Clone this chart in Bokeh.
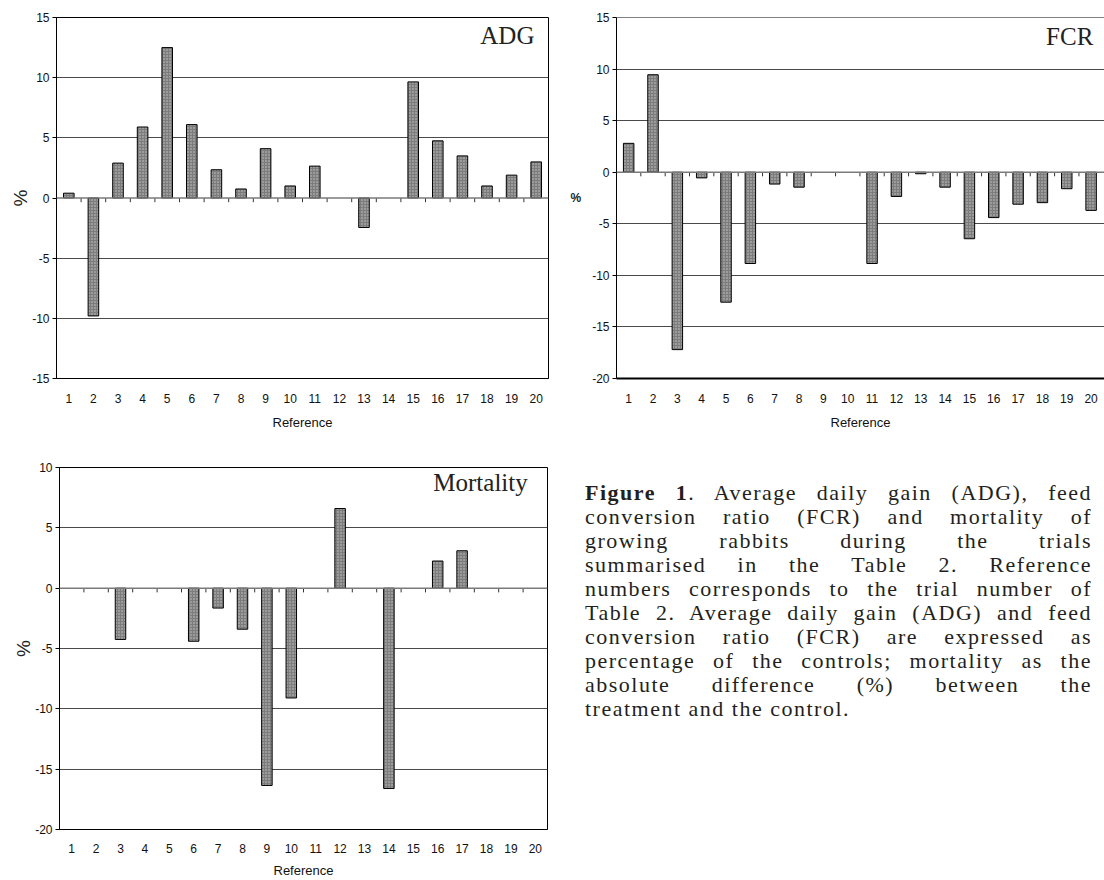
from bokeh.plotting import figure
from bokeh.models import Range1d, FixedTicker, Span, Label, Div
from bokeh.layouts import column, row
from bokeh.embed import file_html
from bokeh.resources import INLINE

# ---------------- data ----------------
refs = list(range(1, 21))
adg = [0.4, -9.8, 2.9, 5.9, 12.5, 6.1, 2.35, 0.75, 4.1, 1.0,
       2.65, 0.0, -2.45, 0.0, 9.65, 4.75, 3.5, 1.0, 1.9, 3.0]
fcr = [2.8, 9.45, -17.2, -0.55, -12.6, -8.85, -1.15, -1.45, 0.0, 0.0,
       -8.85, -2.35, -0.15, -1.45, -6.45, -4.4, -3.1, -2.95, -1.6, -3.7]
mortality = [0.0, 0.0, -4.25, 0.0, 0.0, -4.4, -1.65, -3.4, -16.35, -9.1,
             0.0, 6.6, 0.0, -16.6, 0.0, 2.25, 3.1, 0.0, 0.0, 0.0]
adg_ticks = [-15, -10, -5, 0, 5, 10, 15]
fcr_ticks = [-20, -15, -10, -5, 0, 5, 10, 15]
mort_ticks = [-20, -15, -10, -5, 0, 5, 10]

caption_lines = [
    "<b>Figure 1</b>. Average daily gain (ADG), feed",
    "conversion ratio (FCR) and mortality of",
    "growing rabbits during the trials",
    "summarised in the Table 2. Reference",
    "numbers corresponds to the trial number of",
    "Table 2. Average daily gain (ADG) and feed",
    "conversion ratio (FCR) are expressed as",
    "percentage of the controls; mortality as the",
    "absolute difference (%) between the",
    "treatment and the control.",
]

SANS = "Liberation Sans"
SERIF = "Liberation Serif"


def make_panel(values, yticks, title, title_xy, width, height, borders,
               xend=20.5, tick_len=0.35, horizontal_ylabel=False,
               outline=True, ylabel_size="19px", ylabel_standoff=2,
               xlabel_standoff=15, xaxis_label_standoff=9,
               bottom_axis_width=1):
    p = figure(width=width, height=height,
               x_range=Range1d(0.5, xend),
               y_range=Range1d(min(yticks), max(yticks)),
               output_backend="svg", toolbar_location=None,
               min_border_left=borders[0], min_border_right=borders[1],
               min_border_top=borders[2], min_border_bottom=borders[3])
    p.background_fill_color = "white"
    p.border_fill_color = "white"
    p.outline_line_color = "black" if outline else None
    p.outline_line_width = 1

    # grid
    p.xgrid.grid_line_color = None
    p.ygrid.ticker = FixedTicker(ticks=[t for t in yticks if t != 0])
    p.ygrid.grid_line_color = "#4a4a4a"
    p.ygrid.grid_line_width = 1

    # x axis
    xa = p.xaxis[0]
    xa.ticker = FixedTicker(ticks=refs)
    xa.major_tick_line_color = None
    xa.minor_tick_line_color = None
    xa.major_tick_out = 0
    xa.major_tick_in = 0
    xa.major_label_standoff = xlabel_standoff
    xa.major_label_text_font = SANS
    xa.major_label_text_font_size = "12px"
    xa.major_label_text_color = "#111111"
    xa.axis_line_color = "black"
    xa.axis_line_width = bottom_axis_width
    xa.axis_label = "Reference"
    xa.axis_label_standoff = xaxis_label_standoff
    xa.axis_label_text_font = SANS
    xa.axis_label_text_font_size = "13px"
    xa.axis_label_text_font_style = "normal"
    xa.axis_label_text_color = "#111111"

    # y axis
    ya = p.yaxis[0]
    ya.ticker = FixedTicker(ticks=yticks)
    ya.major_label_overrides = {t: str(t) for t in yticks}
    ya.minor_tick_line_color = None
    ya.major_tick_out = 4
    ya.major_tick_in = 0
    ya.major_tick_line_color = "black"
    ya.axis_line_color = "black"
    ya.major_label_standoff = 3
    ya.major_label_text_font = SANS
    ya.major_label_text_font_size = "12px"
    ya.major_label_text_color = "#111111"
    ya.axis_label = "%"
    ya.axis_label_text_font = SANS
    ya.axis_label_text_font_style = "bold" if horizontal_ylabel else "normal"
    ya.axis_label_text_font_size = ylabel_size
    ya.axis_label_text_color = "#222222"
    ya.axis_label_standoff = ylabel_standoff
    if horizontal_ylabel:
        ya.axis_label_orientation = "horizontal"

    # zero line
    p.add_layout(Span(location=0, dimension="width",
                      line_color="#7a7a7a", line_width=1.5))

    # category boundary ticks on the zero line
    bounds = [r + 0.5 for r in refs[:-1]]
    p.segment(x0=bounds, y0=[0] * len(bounds), x1=bounds,
              y1=[-tick_len] * len(bounds), line_color="#333333",
              line_width=1)

    # bars (no bar where value is zero)
    xs = [r for r, v in zip(refs, values) if v != 0]
    vs = [v for v in values if v != 0]
    p.vbar(x=xs, top=vs, bottom=0, width=0.43,
           fill_color="#7c7c7c", line_color="black", line_width=1,
           hatch_pattern="dot", hatch_color="#cccccc", hatch_scale=3,
           hatch_weight=1)

    p.add_layout(Label(x=title_xy[0], y=title_xy[1], text=title,
                       text_align="right", text_baseline="alphabetic",
                       text_font=SERIF, text_font_size="25px",
                       text_color="#222222"))
    return p


p_adg = make_panel(adg, adg_ticks, "ADG", (19.93, 13.5),
                   width=560, height=432, borders=(56, 12, 17, 54),
                   ylabel_standoff=-2)
p_fcr = make_panel(fcr, fcr_ticks, "FCR", (20.09, 13.2),
                   width=544, height=432, borders=(56, 0, 17, 54),
                   xend=20.55, tick_len=0.4, horizontal_ylabel=True,
                   outline=False, ylabel_size="12px", ylabel_standoff=8,
                   bottom_axis_width=2)
p_fcr.add_layout(Span(location=15, dimension="width",
                      line_color="black", line_width=1))
p_mort = make_panel(mortality, mort_ticks, "Mortality", (19.69, 8.75),
                    width=560, height=448, borders=(59, 13, 35, 51),
                    ylabel_standoff=-2, xlabel_standoff=14,
                    xaxis_label_standoff=7)

caption_html = ""
for i, line in enumerate(caption_lines):
    last = i == len(caption_lines) - 1
    align = "left" if last else "justify"
    caption_html += (
        f'<div style="text-align:{align};text-align-last:{align};'
        f'white-space:nowrap;">{line}</div>'
    )
caption = Div(
    text=(f'<div style="font-family:\'{SERIF}\';font-size:22px;'
          f'letter-spacing:1.5px;line-height:24px;color:#231f20;'
          f'width:507px;margin-left:20px;margin-top:44px;">'
          f'{caption_html}</div>'),
    width=544, height=448)

layout = column(row(p_adg, p_fcr), row(p_mort, caption))

open("out.html", "w").write(file_html(layout, INLINE))
